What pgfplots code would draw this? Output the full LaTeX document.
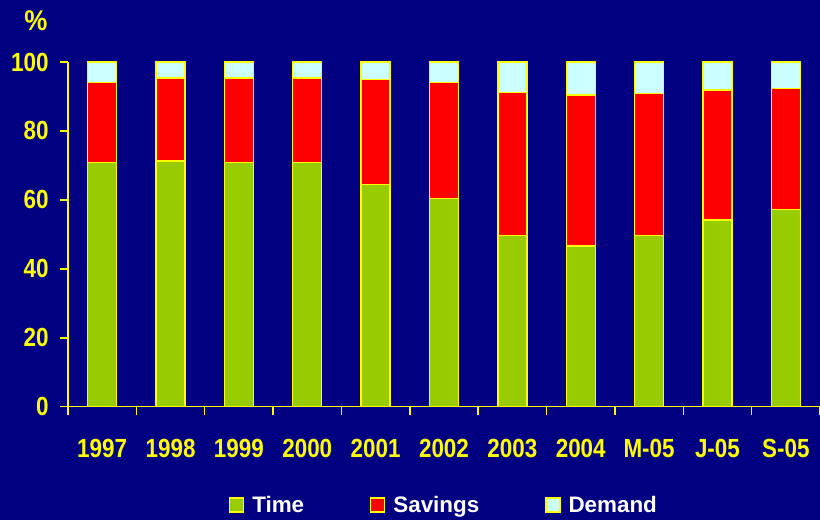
\documentclass[border=0pt]{standalone}
\usepackage{fontspec}
\setmainfont{Liberation Sans}
\usepackage{pgfplots}
\pgfplotsset{compat=1.18}
\definecolor{bg}{RGB}{0,0,128}
\definecolor{tgreen}{RGB}{153,204,0}
\definecolor{sred}{RGB}{255,0,0}
\definecolor{dcyan}{RGB}{204,255,255}
\definecolor{yel}{RGB}{255,255,0}
\begin{document}
\begin{tikzpicture}
\fill[bg, use as bounding box] (0,0) rectangle (820bp,520bp);
\begin{axis}[
  at={(68bp,113.3bp)}, anchor=south west,
  scale only axis, width=752bp, height=344.7bp,
  ybar stacked, bar width=29bp,
  xmin=-0.5, xmax=10.5, ymin=0, ymax=100,
  axis x line=bottom, axis y line=left,
  axis line style={yel, line width=1.5bp, -},
  xtick={0,...,10},
  xticklabels={1997,1998,1999,2000,2001,2002,2003,2004,M-05,J-05,S-05},
  minor xtick={-0.5,0.5,...,10.5},
  ytick={0,20,...,100},
  tick align=outside,
  major x tick style={draw=none},
  minor x tick style={yel, line width=1.5bp},
  major tick length=8bp, minor tick length=8bp,
  y tick style={yel, line width=1.5bp},
  ticklabel style={font=\fontsize{22.5}{26}\selectfont\bfseries, text=yel, yscale=1.17},
  /pgf/number format/assume math mode=true,
  xticklabel style={yshift=-17bp},
  yticklabel style={xshift=-8bp},
  legend style={at={(0.5,-0.285)}, anchor=center, draw=none, fill=bg,
    text=white, font=\fontsize{22.5}{26}\selectfont\bfseries,
    legend columns=3, /tikz/every even column/.style={column sep=64bp},
    /tikz/every odd column/.style={column sep=6bp}},
  legend image code/.code={\draw[#1, draw=yel, line width=1.2bp] (0bp,-7bp) rectangle (14bp,7bp);},
  every axis plot/.append style={draw=yel, line width=1.3bp},
  clip=false,
]
\addplot[fill=tgreen] coordinates {(0,70.8) (1,71.3) (2,70.8) (3,70.8) (4,64.5) (5,60.5) (6,49.6) (7,46.6) (8,49.6) (9,54.2) (10,57.3)};
\addplot[fill=sred] coordinates {(0,23.3) (1,24.1) (2,24.6) (3,24.6) (4,30.5) (5,33.6) (6,41.6) (7,43.8) (8,41.3) (9,37.7) (10,35.0)};
\addplot[fill=dcyan] coordinates {(0,5.9) (1,4.6) (2,4.6) (3,4.6) (4,5.0) (5,5.9) (6,8.8) (7,9.6) (8,9.1) (9,8.1) (10,7.7)};
\legend{Time,Savings,Demand}
\end{axis}
\node[text=yel, font=\fontsize{26}{30}\selectfont\bfseries, yscale=1.1] at (36bp,499bp) {\%};
\end{tikzpicture}
\end{document}
